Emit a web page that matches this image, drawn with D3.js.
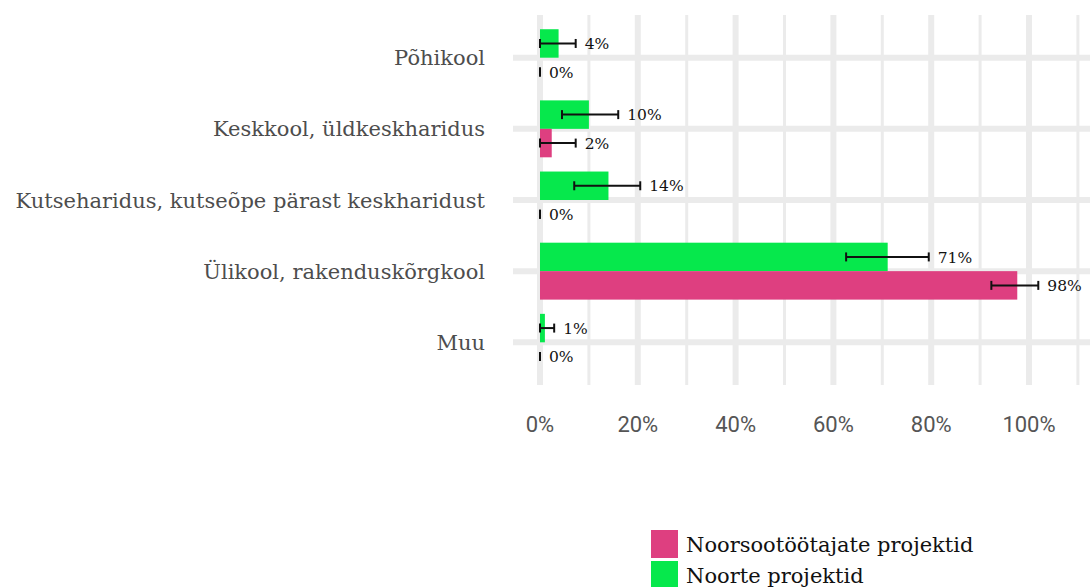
<!DOCTYPE html>
<html lang="et">
<head>
    <meta charset="UTF-8">
    <title>Haridustase</title>
    <style>
        body { margin: 0; background: #fff; }
        svg { display: block; }
    </style>
    <script src="https://d3js.org/d3.v7.min.js"></script>
</head>
<body>
    <script>
        var categories = ["Põhikool", "Keskkool, üldkeskharidus", "Kutseharidus, kutseõpe pärast keskharidust", "Ülikool, rakenduskõrgkool", "Muu"];
        var seriesNames = ["Noorsootöötajate projektid", "Noorte projektid"];
        var seriesColors = ["#de3f80", "#06e84c"];

        // values in %
        var noorte = [3.8, 10, 14, 71.1, 1];
        var noorteLow = [0, 4.5, 7, 62.6, 0];
        var noorteHigh = [7.3, 16, 20.5, 79.5, 2.9];

        var noorsoo = [0, 2.4, 0, 97.6, 0];
        var noorsooLow = [0, 0, 0, 92.3, 0];
        var noorsooHigh = [0, 7.3, 0, 101.9, 0];

        var xTicks = [0, 20, 40, 60, 80, 100];
        var xMinor = [10, 30, 50, 70, 90, 110];

        var width = 1090, height = 587;
        var panelLeft = 513, panelTop = 15, panelBottom = 385;
        var slab = "'DejaVu Serif', serif";

        var svg = d3.select("body").append("svg")
            .attr("width", width)
            .attr("height", height);

        var x = d3.scaleLinear().domain([0, 100]).range([540, 1029]);
        var y = d3.scalePoint().domain(categories).range([panelTop, panelBottom]).padding(0.6);
        var barH = y.step() * 0.4;

        // grid
        var grid = svg.append("g");
        grid.selectAll(".minor").data(xMinor).enter().append("line")
            .attr("x1", d => x(d)).attr("x2", d => x(d))
            .attr("y1", panelTop).attr("y2", panelBottom)
            .attr("stroke", "#ebebeb").attr("stroke-width", 3);
        grid.selectAll(".major").data(xTicks).enter().append("line")
            .attr("x1", d => x(d)).attr("x2", d => x(d))
            .attr("y1", panelTop).attr("y2", panelBottom)
            .attr("stroke", "#ebebeb").attr("stroke-width", 6);
        grid.selectAll(".hmajor").data(categories).enter().append("line")
            .attr("x1", panelLeft).attr("x2", width)
            .attr("y1", d => y(d)).attr("y2", d => y(d))
            .attr("stroke", "#ebebeb").attr("stroke-width", 6);

        var rows = categories.map(function(c, i) {
            return [
                { cat: c, v: noorte[i], lo: noorteLow[i], hi: noorteHigh[i], s: 1, off: -1 },
                { cat: c, v: noorsoo[i], lo: noorsooLow[i], hi: noorsooHigh[i], s: 0, off: 0 }
            ];
        }).flat();

        svg.selectAll(".bar").data(rows).enter().append("rect")
            .attr("x", x(0))
            .attr("y", d => y(d.cat) + d.off * barH)
            .attr("width", d => x(d.v) - x(0))
            .attr("height", barH)
            .attr("fill", d => seriesColors[d.s]);

        var eb = svg.selectAll(".eb").data(rows).enter().append("g")
            .attr("transform", d => "translate(0," + (y(d.cat) + (d.off + 0.5) * barH) + ")");
        eb.append("line")
            .attr("x1", d => x(d.lo)).attr("x2", d => x(d.hi))
            .attr("stroke", "#111").attr("stroke-width", 2);
        eb.append("line")
            .attr("x1", d => x(d.lo)).attr("x2", d => x(d.lo))
            .attr("y1", -4.5).attr("y2", 4.5)
            .attr("stroke", "#111").attr("stroke-width", 2);
        eb.append("line")
            .attr("x1", d => x(d.hi)).attr("x2", d => x(d.hi))
            .attr("y1", -4.5).attr("y2", 4.5)
            .attr("stroke", "#111").attr("stroke-width", 2);
        eb.append("text")
            .attr("x", d => x(d.hi) + 9)
            .attr("dy", "0.36em")
            .style("font-family", slab)
            .style("font-size", "15.5px")
            .attr("fill", "#111")
            .text(d => d3.format(".0%")(d.v / 100));

        // category labels
        svg.selectAll(".cat").data(categories).enter().append("text")
            .attr("x", 485)
            .attr("y", d => y(d))
            .attr("dy", "0.36em")
            .attr("text-anchor", "end")
            .style("font-family", slab)
            .style("font-size", "21px")
            .attr("fill", "#4d4d4d")
            .text(d => d);

        // x axis labels
        svg.selectAll(".tick").data(xTicks).enter().append("text")
            .attr("x", d => x(d))
            .attr("y", 424)
            .attr("dy", "0.36em")
            .attr("text-anchor", "middle")
            .style("font-family", "Roboto, sans-serif")
            .style("font-size", "22px")
            .attr("fill", "#555")
            .text(d => d + "%");

        // legend
        var legend = svg.selectAll(".leg").data(seriesNames).enter().append("g")
            .attr("transform", (d, i) => "translate(651," + (530 + i * 31) + ")");
        legend.append("rect")
            .attr("width", 27).attr("height", 28)
            .attr("fill", (d, i) => seriesColors[i]);
        legend.append("text")
            .attr("x", 35).attr("y", 14)
            .attr("dy", "0.36em")
            .style("font-family", slab)
            .style("font-size", "21px")
            .attr("fill", "#111")
            .text(d => d);
    </script>
</body>
</html>
